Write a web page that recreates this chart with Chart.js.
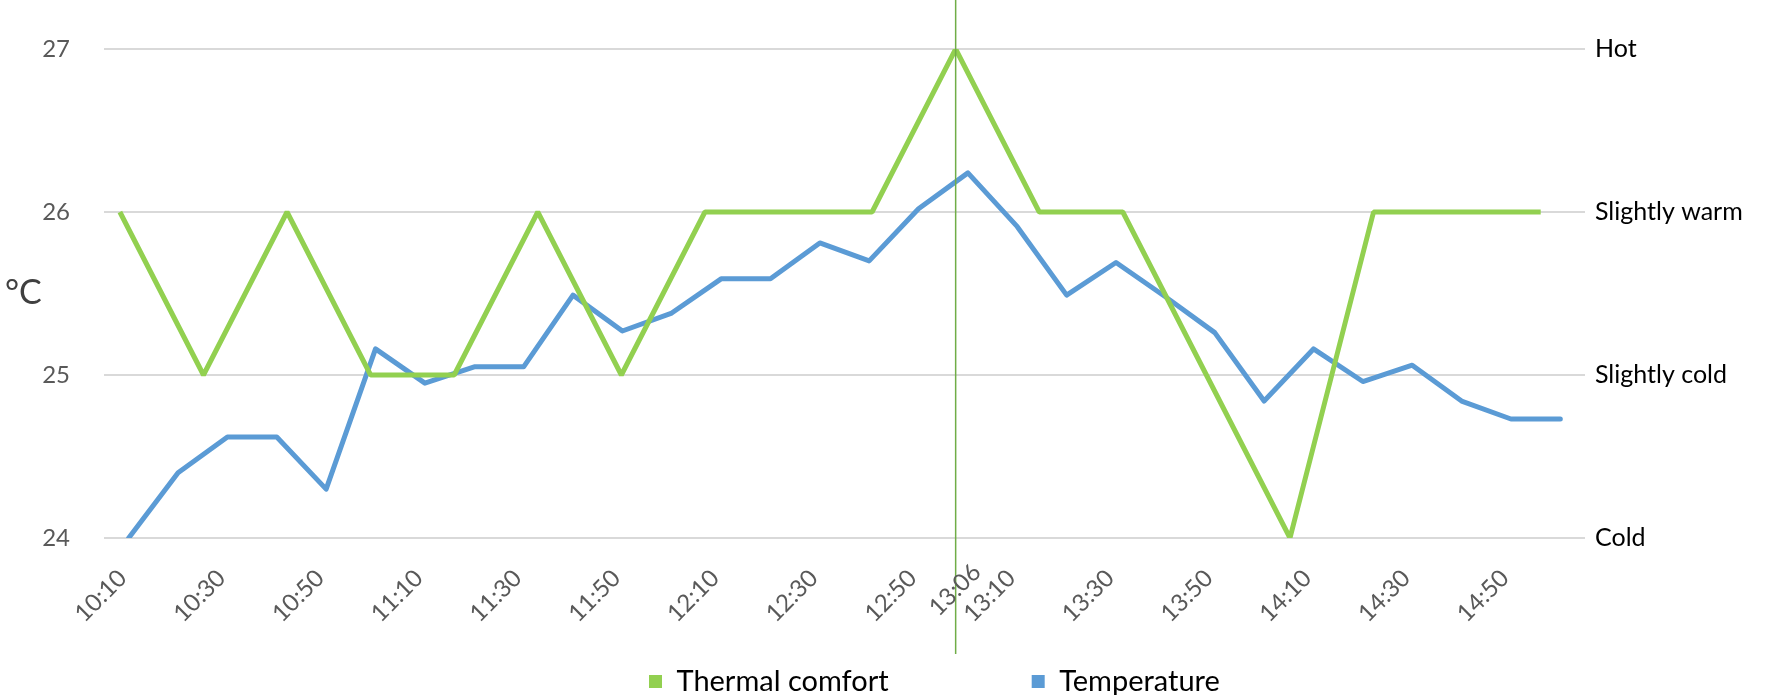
<!DOCTYPE html>
<html>
<head>
<meta charset="utf-8">
<script src="https://cdn.jsdelivr.net/npm/chart.js@4.4.1/dist/chart.umd.min.js"></script>
<style>
html,body{margin:0;padding:0;background:#fff;}
#wrap{width:1770px;height:695px;position:relative;}
</style>
</head>
<body>
<div id="wrap"><canvas id="c" width="1770" height="695"></canvas></div>
<script>
// ---- data ----
const timeLabels = ['10:10','10:20','10:30','10:40','10:50','11:00','11:10','11:20','11:30','11:40',
                    '11:50','12:00','12:10','12:20','12:30','12:40','12:50','13:00','13:10','13:20',
                    '13:30','13:40','13:50','14:00','14:10','14:20','14:30','14:40','14:50','15:00'];
const temperature = [24.00,24.40,24.62,24.62,24.30,25.16,24.95,25.05,25.05,25.49,
                     25.27,25.38,25.59,25.59,25.81,25.70,26.02,26.24,25.91,25.49,
                     25.69,25.48,25.26,24.84,25.16,24.96,25.06,24.84,24.73,24.73];
const comfortLevels = ['Cold','Slightly cold','Slightly warm','Hot'];
const thermalComfort = [3,2,3,2,2,3,2,3,3,3,4,3,3,2,1,3,3,3];
const markerIndex = 10;
const markerLabel = '13:06';
const unitLabel = '°C';

const FONT = 'Lato, "Open Sans", sans-serif';
const X_PAD = 18;

const overlay = {
  id: 'overlay',
  afterLayout(chart) {
    const lg = chart.legend;
    if (!lg) return;
    const pad = lg.options.labels.padding;
    lg.left = 649 - pad;
    lg.right = 4000;
    lg.top = 667 - pad;
  },
  afterDraw(chart) {
    const {ctx, chartArea, scales} = chart;
    const x = scales.x2.getPixelForValue(markerIndex);
    ctx.save();
    ctx.strokeStyle = '#70AD47';
    ctx.lineWidth = 1.5;
    ctx.beginPath();
    ctx.moveTo(x, 0);
    ctx.lineTo(x, chartArea.bottom + 116);
    ctx.stroke();
    ctx.font = '24px ' + FONT;
    ctx.fillStyle = '#595959';
    ctx.textAlign = 'right';
    ctx.textBaseline = 'middle';
    ctx.translate(x + 11, scales.x.top + X_PAD + 2);
    ctx.rotate(-Math.PI / 4);
    ctx.fillText(markerLabel, 0, 14.4);
    ctx.restore();

    ctx.save();
    ctx.font = '34px ' + FONT;
    ctx.fillStyle = '#404040';
    ctx.textAlign = 'left';
    ctx.textBaseline = 'middle';
    ctx.fillText(unitLabel, 5, (chartArea.top + chartArea.bottom) / 2);
    ctx.restore();
  }
};

new Chart(document.getElementById('c'), {
  type: 'line',
  data: {
    labels: timeLabels,
    datasets: [
      {
        label: 'Thermal comfort',
        data: thermalComfort.map((v, i) => ({x: i, y: v})),
        xAxisID: 'x2',
        yAxisID: 'y2',
        borderColor: '#92D050',
        backgroundColor: '#92D050',
        borderWidth: 5,
        pointRadius: 0,
        tension: 0,
        borderJoinStyle: 'bevel'
      },
      {
        label: 'Temperature',
        data: temperature,
        xAxisID: 'x',
        yAxisID: 'y',
        borderColor: '#5B9BD5',
        backgroundColor: '#5B9BD5',
        borderWidth: 5,
        pointRadius: 0,
        tension: 0,
        borderJoinStyle: 'round',
        borderCapStyle: 'round'
      }
    ]
  },
  options: {
    responsive: false,
    animation: false,
    layout: {padding: {top: 49, left: 0, right: 0, bottom: 0}},
    scales: {
      x: {
        type: 'category',
        offset: true,
        grid: {display: false},
        border: {display: false},
        ticks: {
          autoSkip: false,
          minRotation: 45,
          maxRotation: 45,
          padding: X_PAD,
          labelOffset: -6,
          color: '#595959',
          font: {family: FONT, size: 24},
          callback: (v, i) => (i % 2 === 0 ? timeLabels[i] : '')
        },
        afterFit: s => { s.height = 107; }
      },
      x2: {type: 'linear', display: false, min: -0.19, max: 17.53},
      y: {
        position: 'left',
        min: 24, max: 27,
        ticks: {stepSize: 1, padding: 34, color: '#595959', font: {family: FONT, size: 24}},
        grid: {color: '#D9D9D9', lineWidth: 2, drawTicks: false},
        border: {display: false},
        afterFit: s => { s.width = 104; }
      },
      y2: {
        position: 'right',
        min: 1, max: 4,
        ticks: {stepSize: 1, padding: 2, color: '#000000', font: {family: FONT, size: 25},
                callback: v => comfortLevels[v - 1]},
        grid: {display: false},
        border: {display: false},
        afterFit: s => { s.width = 185; }
      }
    },
    plugins: {
      legend: {
        position: 'bottom',
        align: 'start',
        maxHeight: 50,
        labels: {
          boxWidth: 13,
          boxHeight: 13,
          padding: 143,
          color: '#000000',
          font: {family: FONT, size: 29},
          generateLabels: chart => Chart.defaults.plugins.legend.labels.generateLabels(chart)
            .map(l => Object.assign(l, {lineWidth: 0}))
        }
      },
      tooltip: {enabled: false}
    }
  },
  plugins: [overlay]
});
</script>
</body>
</html>
